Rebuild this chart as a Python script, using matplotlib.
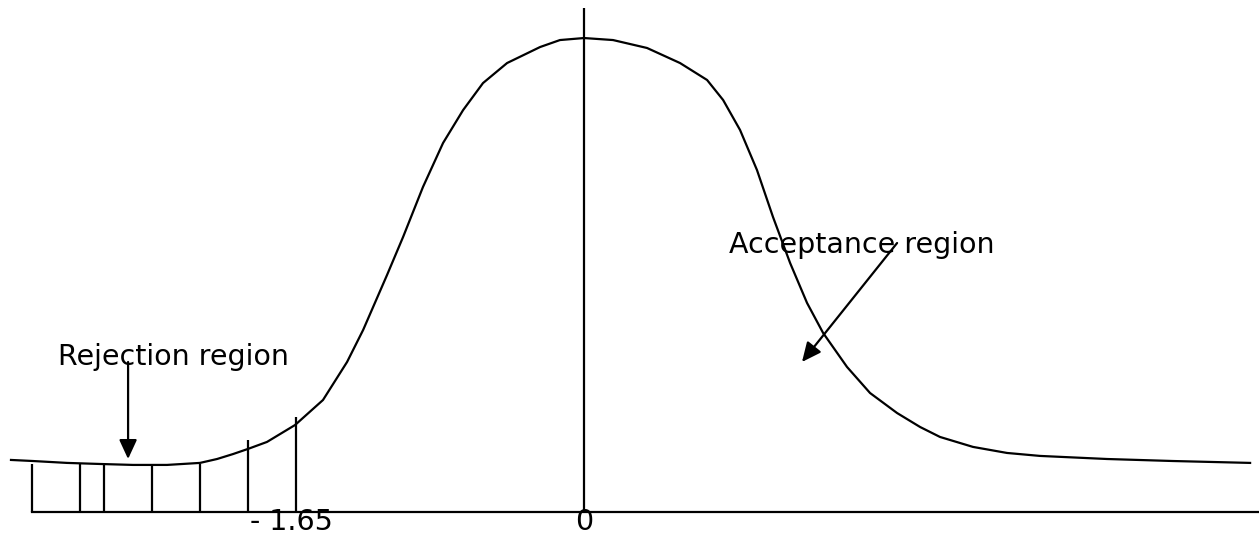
import numpy as np
import matplotlib.pyplot as plt

# hand-drawn bell curve (z units, density units)
curve_z = [-3.284, -3.158, -2.963, -2.774, -2.585, -2.390, -2.201, -2.103, -2.011,
           -1.926, -1.817, -1.656, -1.496, -1.358, -1.266, -1.129, -1.037, -0.923,
           -0.808, -0.693, -0.579, -0.441, -0.252, -0.138, 0.0, 0.166, 0.361, 0.550,
           0.705, 0.797, 0.894, 0.991, 1.083, 1.181, 1.278, 1.370, 1.507, 1.639,
           1.794, 1.926, 2.040, 2.229, 2.424, 2.613, 2.997, 3.375, 3.817]
curve_d = [0.0439, 0.0430, 0.0414, 0.0405, 0.0397, 0.0397, 0.0414, 0.0447, 0.0489,
           0.0532, 0.0591, 0.0734, 0.0945, 0.1266, 0.1536, 0.2000, 0.2321, 0.2743,
           0.3114, 0.3392, 0.3620, 0.3789, 0.3924, 0.3983, 0.4000, 0.3983, 0.3916,
           0.3789, 0.3646, 0.3477, 0.3224, 0.2886, 0.2489, 0.2101, 0.1764, 0.1511,
           0.1224, 0.1004, 0.0835, 0.0717, 0.0633, 0.0549, 0.0498, 0.0473, 0.0447,
           0.0430, 0.0414]

# vertical hatch lines of the rejection region
hatch_z = [-3.163, -2.888, -2.751, -2.476, -2.201, -1.926, -1.650]
hatch_top = [0.0405, 0.0405, 0.0405, 0.0405, 0.0405, 0.0608, 0.0802]

axis_start, axis_end = -3.163, 3.87
center_top = 0.4253
crit_label = "- 1.65"
crit_z = -1.914

fig = plt.figure(figsize=(12.59, 5.34), dpi=100)
ax = fig.add_axes([0, 0, 1, 1])
ax.set_xlim(-3.347, 3.868)
ax.set_ylim(-0.0186, 0.4321)
ax.axis('off')

lw = 1.6
ax.plot(curve_z, curve_d, color='black', lw=lw, solid_joinstyle='round')
ax.plot([axis_start, axis_end], [0, 0], color='black', lw=lw)
ax.vlines(hatch_z, 0, hatch_top, color='black', lw=lw)
ax.vlines(0, 0, center_top, color='black', lw=lw)

fs = 20.5
ax.text(-3.014, 0.1241, "Rejection region", fontsize=fs, va='baseline', ha='left')
ax.text(0.831, 0.2186, "Acceptance region", fontsize=fs, va='baseline', ha='left')
ax.text(crit_z, 0.0034, crit_label, fontsize=fs, va='top', ha='left')
ax.text(0, 0.0030, "0", fontsize=fs, va='top', ha='center')

arrow = dict(arrowstyle='-|>,head_length=0.65,head_width=0.3', color='black',
             lw=lw, mutation_scale=18, shrinkA=0, shrinkB=0)
ax.annotate("", xy=(-2.613, 0.0447), xytext=(-2.613, 0.1266), arrowprops=arrow)
ax.annotate("", xy=(1.249, 0.1266), xytext=(1.794, 0.2270), arrowprops=arrow)

plt.savefig('out.png', dpi=100)
